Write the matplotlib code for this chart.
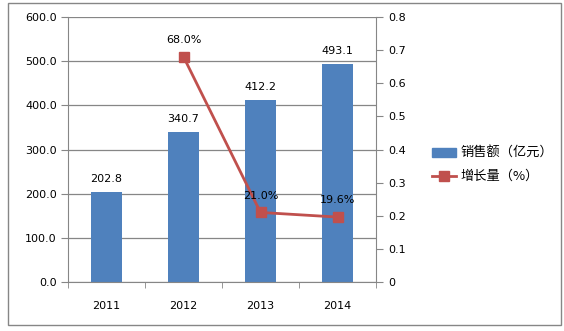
import numpy as np
import matplotlib
matplotlib.use("Agg")
import matplotlib.pyplot as plt
from matplotlib.patches import Rectangle
from matplotlib.lines import Line2D

plt.rcParams['font.family'] = ['DejaVu Sans', 'Noto Sans CJK SC']

years = ["2011", "2012", "2013", "2014"]
sales = [202.8, 340.7, 412.2, 493.1]          # 销售额 (亿元)
growth_years = ["2012", "2013", "2014"]
growth = [0.680, 0.210, 0.196]                # 增长量

bar_color = "#4F81BD"
line_color = "#C0504D"
axis_gray = "#868686"
font_size = 8

fig = plt.figure(figsize=(5.64, 3.31), dpi=100)
ax = fig.add_axes([68/564, 49/331, 308/564, 265/331])
ax2 = ax.twinx()

x = np.arange(len(years))
ax.bar(x, sales, width=0.4, color=bar_color, zorder=2)
for xi, v in zip(x, sales):
    ax.text(xi, v + 18, f"{v:.1f}", ha="center", va="bottom", fontsize=font_size)

ax.set_xlim(-0.5, len(years) - 0.5)
ax.set_ylim(0, 600)
ax.set_yticks(np.arange(0, 601, 100))
ax.set_yticklabels([f"{v:.1f}" for v in np.arange(0, 601, 100)], fontsize=font_size)
ax.set_xticks(x)
ax.set_xticklabels(years, fontsize=font_size)
ax.set_xticks(np.arange(-0.5, len(years), 1), minor=True)
ax.tick_params(axis="x", which="major", length=0, pad=14)
ax.tick_params(axis="x", which="minor", length=4, color=axis_gray)
ax.tick_params(axis="y", length=5, color=axis_gray, pad=3)
ax.grid(axis="y", color=axis_gray, linewidth=0.9, zorder=0)
ax.set_axisbelow(True)
for side in ["top", "right"]:
    ax.spines[side].set_visible(False)
for side in ["left", "bottom"]:
    ax.spines[side].set_color(axis_gray)

gx = [years.index(y) for y in growth_years]
ax2.plot(gx, growth, color=line_color, linewidth=2, marker="s", markersize=7, zorder=3)
for xi, v in zip(gx, growth):
    ax2.text(xi, v + 0.035, f"{v*100:.1f}%", ha="center", va="bottom", fontsize=font_size)
ax2.set_ylim(0, 0.8)
ax2.set_yticks(np.arange(0, 0.81, 0.1))
ax2.set_yticklabels(["0"] + [f"{v:.1f}" for v in np.arange(0.1, 0.81, 0.1)], fontsize=font_size)
ax2.tick_params(axis="y", length=5, color=axis_gray, pad=4)
for side in ["top", "left", "bottom"]:
    ax2.spines[side].set_visible(False)
ax2.spines["right"].set_color(axis_gray)

handles = [Rectangle((0, 0), 1, 0.6, color=bar_color),
           Line2D([], [], color=line_color, linewidth=2, marker="s", markersize=7)]
fig.legend(handles, ["销售额（亿元）", "增长量（%）"], loc="center left",
           bbox_to_anchor=(420/564, 1 - 165/331), frameon=False,
           prop={"family": ["Noto Sans CJK SC", "DejaVu Sans"], "size": 9.5},
           handlelength=1.8, handleheight=0.6, handletextpad=0.35, labelspacing=0.75)

fig.patches.append(Rectangle((8/564, 6/331), 553/564, 322/331, transform=fig.transFigure,
                             fill=False, edgecolor=axis_gray, linewidth=1))

fig.savefig("out.png", dpi=100)
